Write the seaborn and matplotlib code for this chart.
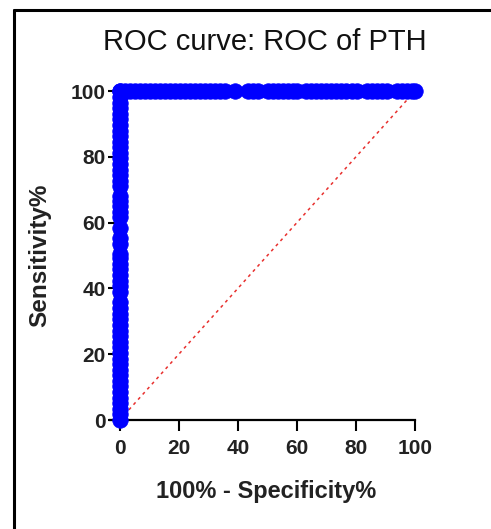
import matplotlib
matplotlib.use("Agg")
import matplotlib.pyplot as plt
from matplotlib.lines import Line2D
import seaborn as sns
import pandas as pd

# ROC points of PTH
# sensitivity values plotted at 100% - specificity = 0
sens_at_zero = [0, 1.7, 3.4, 5.1, 6.8, 8.5, 10.2, 11.9, 13.6, 15.3, 17.0, 18.7,
                20.4, 22.1, 23.8, 25.5, 27.2, 28.9, 30.6, 32.3, 34.0, 35.8, 39.0,
                40.7, 42.4, 44.1, 45.8, 47.5, 49.2, 50.6, 53.6, 55.4, 58.5, 61.6,
                63.3, 65.0, 66.7, 68.0, 71.0, 72.7, 74.4, 76.1, 77.8, 79.5, 81.2,
                82.9, 84.6, 86.3, 88.0, 89.7, 91.4, 93.1, 94.8, 96.5, 98.2, 100]
# 100% - specificity values plotted at sensitivity = 100
fpr_at_full = [0, 1.7, 3.4, 5.1, 6.8, 8.5, 10.2, 11.9, 13.6, 15.3, 17.0, 18.7,
               20.4, 22.1, 23.8, 25.5, 27.2, 28.9, 30.6, 32.3, 34.0, 35.6, 39.0,
               43.4, 45.1, 46.9, 50.1, 51.8, 53.5, 55.2, 56.9, 58.6, 60.1, 63.2,
               64.9, 66.6, 68.3, 70.0, 71.7, 73.4, 75.1, 76.8, 78.5, 80.3, 83.6,
               85.3, 87.0, 88.7, 90.5, 93.8, 95.5, 97.2, 98.9, 100]
diag_x = [0, 100]
diag_y = [0, 100]
x_ticks = [0, 20, 40, 60, 80, 100]
y_ticks = [0, 20, 40, 60, 80, 100]

roc = pd.DataFrame({
    'fpr': [0] * len(sens_at_zero) + fpr_at_full,
    'sens': sens_at_zero + [100] * len(fpr_at_full),
})

sns.set_style("ticks")
plt.rcParams['font.family'] = ['Liberation Sans', 'DejaVu Sans']

fig = plt.figure(figsize=(4.91, 5.29), dpi=100)
ax = fig.add_axes([0.2240, 0.2060, 0.6212, 0.6219])

# chance line
sns.lineplot(x=diag_x, y=diag_y, ax=ax, color='#e8302e', linewidth=1.1,
             linestyle=(0, (2, 2.5)), zorder=1)

sns.scatterplot(data=roc, x='fpr', y='sens', ax=ax, color='#0000ff',
                s=125, linewidth=0.5, edgecolor='#0000ff', zorder=3, clip_on=False)

ax.set_xlim(-3.3, 100)
ax.set_ylim(0, 100)
ax.set_xticks(x_ticks)
ax.set_yticks(y_ticks)

sns.despine(ax=ax)
ax.spines['left'].set_position(('data', -1.5))
for side in ['left', 'bottom']:
    ax.spines[side].set_linewidth(1.6)
    ax.spines[side].set_color('black')

ax.tick_params(axis='x', length=8, width=1.5, pad=6, labelsize=15, colors='black')
ax.tick_params(axis='y', length=5, width=1.5, pad=2, labelsize=15, colors='black')
for lab in ax.get_xticklabels() + ax.get_yticklabels():
    lab.set_fontweight('bold')
    lab.set_color('#222222')

ax.set_xlabel('100% - Specificity%', fontsize=17, fontweight='bold', color='#222222')
ax.set_ylabel('Sensitivity%', fontsize=17.5, fontweight='bold', color='#222222')
ax.xaxis.set_label_coords(0.513, -0.218)
ax.xaxis.label.set_va('center')
ax.yaxis.set_label_coords(-0.2295, 0.5015)
ax.yaxis.label.set_va('center')

fig.text(0.540, 0.921, 'ROC curve: ROC of PTH', fontsize=21, ha='center',
         va='center', color='#111111')

# frame lines at top and left of the figure
fig.add_artist(Line2D([14 / 491, 14 / 491], [0, 1 - 10 / 529],
                      transform=fig.transFigure, color='black', linewidth=2.2))
fig.add_artist(Line2D([14 / 491, 1], [1 - 10 / 529, 1 - 10 / 529],
                      transform=fig.transFigure, color='black', linewidth=2.2))

fig.savefig('out.png', dpi=100)
